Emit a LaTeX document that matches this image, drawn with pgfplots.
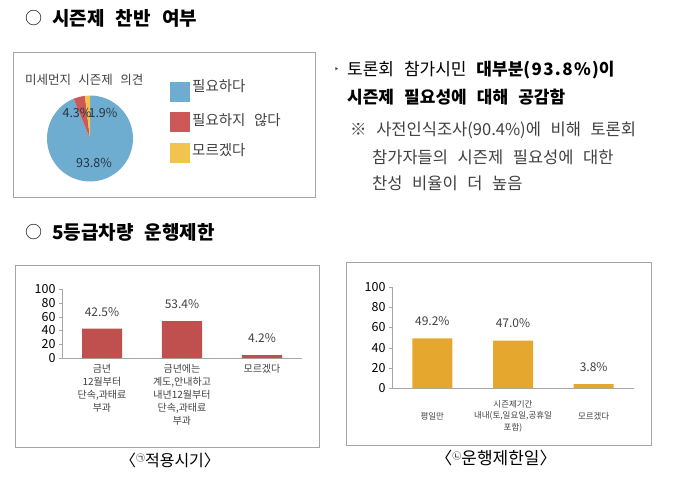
\documentclass[border=0pt]{standalone}
\usepackage{pgfplots}
\pgfplotsset{compat=1.18}
\usepackage{fontspec}
\setmainfont{Noto Sans CJK KR}[WordSpace=2.6]
\newfontfamily\dejavu{DejaVu Sans}

\definecolor{pieblue}{RGB}{110,172,208}
\definecolor{piered}{RGB}{205,88,88}
\definecolor{pieyellow}{RGB}{240,196,78}
\definecolor{pietxt}{RGB}{40,52,66}
\definecolor{barred}{RGB}{192,80,77}
\definecolor{bargold}{RGB}{229,167,45}
\definecolor{boxgray}{RGB}{165,165,165}
\definecolor{axgray}{RGB}{166,166,166}
\definecolor{txt}{RGB}{64,64,64}

\newcommand{\fs}[1]{\fontsize{#1}{#1}\selectfont}
\newcommand{\fsl}[2]{\fontsize{#1}{#2}\selectfont}
\newcommand{\wide}[1]{{\addfontfeature{LetterSpace=8}#1}}

% pie values (percent)
\def\vA{93.8}
\def\vB{4.3}
\def\vC{1.9}

\pgfplotsset{
  barchart/.style={
    scale only axis, ybar, bar width=40pt,
    xmin=-0.5, xmax=2.5, ymin=0, ymax=100,
    axis x line*=bottom, axis y line*=left,
    axis line style={axgray},
    ytick={0,20,...,100}, xtick={0,1,2},
    tick align=outside, major tick length=3pt,
    xtick style={draw=none},
    ytick style={axgray},
    yticklabel style={font=\fs{12.5}, text=black},
    /pgf/number format/assume math mode=true,
    nodes near coords={\pgfmathprintnumber[fixed,precision=1,fixed zerofill]{\pgfplotspointmeta}\%},
    nodes near coords style={font=\fs{12}, text=txt, anchor=center, yshift=17pt},
    clip=false,
  }
}

\begin{document}
\begin{tikzpicture}[x=1pt,y=1pt, t/.style={anchor=west, inner sep=0pt}]
\useasboundingbox (0,0) rectangle (680,-479);

% ---- section 1
\node[t, font=\fs{17}] at (25,-18) {○};
\node[t, font=\fs{19}\bfseries] at (52,-18) {시즌제 찬반 여부};
\draw[boxgray] (13,-52) rectangle (315,-197);
\node[t, font=\fs{12.5}, text=txt] at (25,-80) {미세먼지 시즌제 의견};

\fill[pieblue] (170,-82) rectangle (190,-102);
\fill[piered] (170,-112) rectangle (190,-132);
\fill[pieyellow] (170,-143) rectangle (190,-163);
\node[t, font=\fs{14.5}, text=txt] at (192,-86) {필요하다};
\node[t, font=\fs{14.5}, text=txt] at (192,-120) {필요하지 않다};
\node[t, font=\fs{14.5}, text=txt] at (192,-150) {모르겠다};

\pgfmathsetmacro\aB{90-3.6*\vA}
\pgfmathsetmacro\aC{\aB-3.6*\vB}
\begin{axis}[at={(90pt,-138.5pt)}, anchor=center, hide axis, x=1pt, y=1pt,
  xmin=-50, xmax=50, ymin=-50, ymax=50, clip=false]
\fill[pieblue] (axis cs:0,0) -- (axis cs:0,43) arc[start angle=90, end angle=\aB, radius=43pt] -- cycle;
\fill[piered] (axis cs:0,0) -- ++(\aB:43pt) arc[start angle=\aB, end angle=\aC, radius=43pt] -- cycle;
\fill[pieyellow] (axis cs:0,0) -- ++(\aC:43pt) arc[start angle=\aC, end angle=-270, radius=43pt] -- cycle;
\node[font=\fs{12.5}, text=pietxt] at (axis cs:-13,25.5) {\vB\%};
\node[font=\fs{12.5}, text=pietxt] at (axis cs:13,25.5) {\vC\%};
\node[font=\fs{12.5}, text=pietxt] at (axis cs:4,-24.5) {\vA\%};
\end{axis}

% right text
\node[t, font=\fs{9}\dejavu, text=txt] at (334,-70) {‣};
\node[t, font=\fs{17}] at (347,-70) {토론회 참가시민 \textbf{대부분\wide{(93.8\%)}이}};
\node[t, font=\fs{17}\bfseries] at (347,-97) {시즌제 필요성에 대해 공감함};
\node[t, font=\fs{16.5}, text=txt] at (350,-130) {※ 사전인식조사(90.4\%)에 비해 토론회};
\node[t, font=\fs{16.5}, text=txt] at (372,-157) {참가자들의 시즌제 필요성에 대한};
\node[t, font=\fs{16.5}, text=txt] at (372,-183) {찬성 비율이 더 높음};

% ---- section 2
\node[t, font=\fs{17}] at (25,-232) {○};
\node[t, font=\fs{19}\bfseries] at (52,-232) {5등급차량 운행제한};

\draw[boxgray] (15,-265) rectangle (319,-447);
\begin{axis}[barchart, at={(62pt,-358pt)}, anchor=south west, width=240pt, height=69pt,
  xticklabels={{금년\\12월부터\\단속,과태료\\부과},{금년에는\\계도,안내하고\\내년12월부터\\단속,과태료\\부과},{모르겠다}},
  xticklabel style={align=center, font=\fsl{10}{13}, text=txt, anchor=north}]
\addplot[fill=barred, draw=none] coordinates {(0,42.5) (1,53.4) (2,4.2)};
\end{axis}
\node[font=\fs{16}] at (170,-460) {〈\raisebox{0.3em}{\fs{9}㉠}적용시기〉};

\draw[boxgray] (346,-262) rectangle (651,-445);
\begin{axis}[barchart, at={(392pt,-388pt)}, anchor=south west, width=242pt, height=101pt,
  xticklabels={{평일만},{시즌제기간\\내내(토,일요일,공휴일\\포함)},{모르겠다}},
  xticklabel style={align=center, font=\fsl{8.5}{11.5}, text=txt, anchor=center, yshift=-25pt}]
\addplot[fill=bargold, draw=none] coordinates {(0,49.2) (1,47.0) (2,3.8)};
\end{axis}
\node[font=\fs{17}] at (496,-458) {〈\raisebox{0.3em}{\fs{9}㉡}운행제한일〉};
\end{tikzpicture}
\end{document}
